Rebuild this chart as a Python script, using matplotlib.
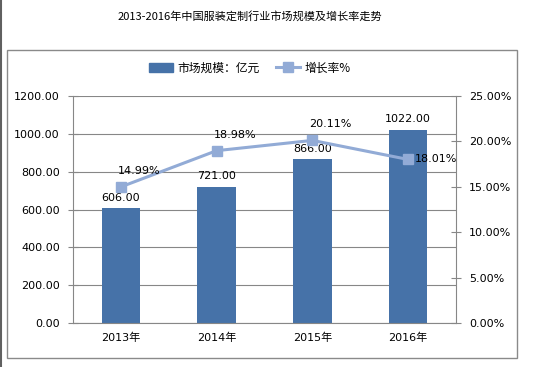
import matplotlib
matplotlib.use("Agg")
import matplotlib.pyplot as plt
from matplotlib.patches import Rectangle
from matplotlib.lines import Line2D
from matplotlib.ticker import FuncFormatter, MultipleLocator

plt.rcParams['font.family'] = ['DejaVu Sans', 'Noto Sans CJK SC']

years = ['2013年', '2014年', '2015年', '2016年']
market = [606.00, 721.00, 866.00, 1022.00]
growth = [14.99, 18.98, 20.11, 18.01]
title = '2013-2016年中国服装定制行业市场规模及增长率走势'
bar_name = '市场规模：亿元'
line_name = '增长率%'

bar_color = '#4672A8'
line_color = '#92ABD6'
grid_color = '#878787'

W, H = 553, 367
fig = plt.figure(figsize=(W / 100, H / 100), dpi=100)

# outer chart border
fig.add_artist(Rectangle((7 / W, 1 - 358 / H), 510 / W, 308 / H, transform=fig.transFigure,
                         fill=False, edgecolor='#8a8a8a', lw=1.0))
# page edge at the far left
fig.add_artist(Line2D([1 / W, 1 / W], [0, 1], transform=fig.transFigure, color='#606060', lw=1.5))

ax = fig.add_axes([73 / W, 1 - 323 / H, (456 - 73) / W, (323 - 96) / H])
x = list(range(len(years)))
ax.bar(x, market, width=0.4, color=bar_color, zorder=2)
ax.set_xlim(-0.5, len(years) - 0.5)
ax.set_ylim(0, 1200)
ax.yaxis.set_major_locator(MultipleLocator(200))
ax.yaxis.set_major_formatter(FuncFormatter(lambda v, p: f'{v:.2f}'))
ax.set_xticks(x)
ax.set_xticklabels(years, fontsize=8)
ax.tick_params(axis='x', length=0, pad=7)
ax.tick_params(axis='y', direction='inout', length=7, color=grid_color, labelsize=8, pad=6)
ax.grid(axis='y', color=grid_color, lw=0.8, zorder=0)
ax.set_axisbelow(True)
for s in ['top', 'right']:
    ax.spines[s].set_visible(False)
for s in ['left', 'bottom']:
    ax.spines[s].set_color(grid_color)
    ax.spines[s].set_linewidth(0.8)

for xi, v in zip(x, market):
    ax.annotate(f'{v:.2f}', (xi, v), xytext=(0, 4), textcoords='offset points',
                ha='center', va='bottom', fontsize=8)

ax2 = ax.twinx()
ax2.plot(x, growth, color=line_color, lw=2.2, marker='s', markersize=6.5,
         markerfacecolor=line_color, markeredgecolor=line_color, zorder=3)
ax2.set_ylim(0, 25)
ax2.yaxis.set_major_locator(MultipleLocator(5))
ax2.yaxis.set_major_formatter(FuncFormatter(lambda v, p: f'{v:.2f}%'))
ax2.tick_params(axis='y', direction='inout', length=7, color=grid_color, labelsize=8, pad=6)
for s in ['top', 'left', 'bottom']:
    ax2.spines[s].set_visible(False)
ax2.spines['right'].set_color(grid_color)
ax2.spines['right'].set_linewidth(0.8)

for i, (xi, g) in enumerate(zip(x, growth)):
    if i == len(growth) - 1:
        ax2.annotate(f'{g:.2f}%', (xi, g), xytext=(5, 0), textcoords='offset points',
                     ha='left', va='center', fontsize=8)
    else:
        ax2.annotate(f'{g:.2f}%', (xi, g), xytext=(13, 8), textcoords='offset points',
                     ha='center', va='bottom', fontsize=8)

fig.text(250 / W, 1 - 16 / H, title, ha='center', va='center', fontsize=8,
         family=['Noto Sans CJK SC', 'DejaVu Sans'])

handles = [Rectangle((0, 0), 1, 1, color=bar_color),
           Line2D([0], [0], color=line_color, lw=2.2, marker='s', markersize=6.5)]
fig.legend(handles, [bar_name, line_name], loc='center', bbox_to_anchor=(250 / W, 1 - 68 / H),
           ncol=2, frameon=False, handlelength=2.0, handletextpad=0.4, columnspacing=1.4,
           prop={'family': ['Noto Sans CJK SC', 'DejaVu Sans'], 'size': 8.5})

fig.savefig('out.png', dpi=100)
